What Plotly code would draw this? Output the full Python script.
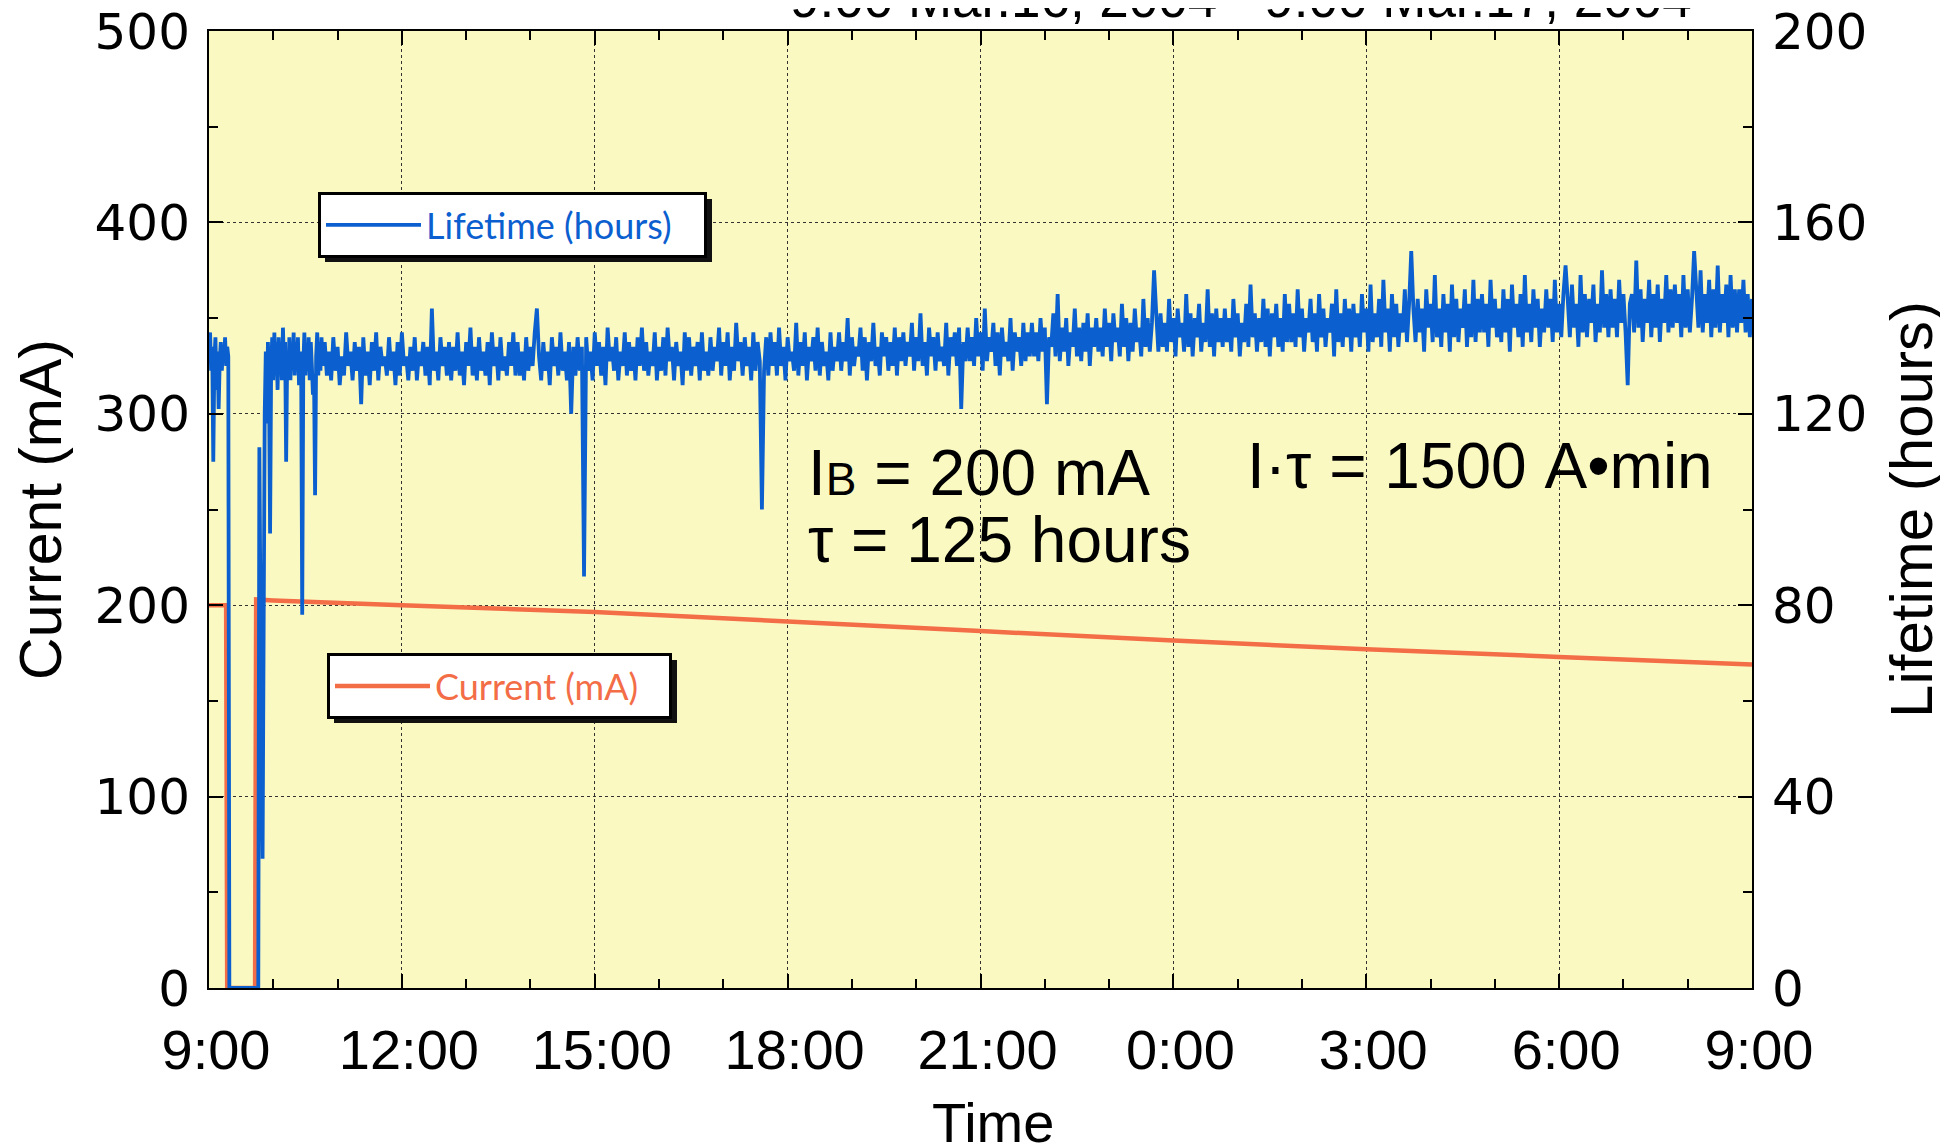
import pandas as pd
import plotly.graph_objects as go

# ---------------- data ----------------
START = pd.Timestamp("2004-03-16 09:00")

# Beam current (mA) vs minutes after 9:00 Mar.16
current_min = [0, 16, 17, 43, 44, 60, 180, 360, 540, 720, 900, 1080, 1260, 1440]
current_mA = [200, 200, 0, 0, 203, 202.5, 200, 196.5, 191.5, 186.5, 181.5, 177, 173, 169]

# Lifetime (hours): early irregular part (minutes after 9:00)
life_early_min = [0, 1, 2, 3, 4, 5, 6, 7, 8, 9, 10, 11, 12, 13, 14, 15, 16, 17, 18, 19,
                  46, 47, 48, 49, 50, 51, 52, 53, 54, 55, 56, 57, 58, 59, 60, 61, 62, 63,
                  64, 65, 66, 67, 68, 69, 70, 71, 72, 73, 74, 75, 76, 77, 78, 79, 80, 81,
                  82, 83, 84, 85, 86, 87, 88, 89, 90, 91, 92, 93, 94, 95, 96, 97, 98, 99,
                  100, 101, 102, 103, 104, 105, 106]
life_early_h = [133, 137, 129, 134, 110, 131, 136, 125, 133, 121, 131, 135, 129, 134, 131,
                136, 130, 134, 132, 0,
                0, 113, 80, 50, 27, 75, 120, 133, 118, 135, 126, 95, 130, 136, 127, 137,
                128, 135, 125, 136, 129, 134, 127, 138, 130, 135, 110, 133, 128, 136, 127,
                134, 130, 137, 128, 135, 129, 136, 126, 133, 131, 78, 130, 137, 128, 134,
                129, 136, 127, 135, 130, 124, 128, 103, 132, 137, 128, 135, 129, 136, 130]

# Lifetime (hours): regular samples every 2 minutes from 108 min onwards
life_start_min = 108
life_step_min = 2
life_h = [
    135, 128, 133, 127, 136, 129, 134, 126, 132, 128, 137, 130, 133, 127, 135, 129, 134, 122, 136, 128, 133, 126, 135, 129, 137, 127, 134, 130, 132, 128,
    136, 129, 133, 126, 135, 128, 137, 130, 132, 127, 134, 129, 136, 127, 133, 130, 135, 128, 134, 126, 142, 129, 133, 127, 136, 130, 134, 128, 135, 127,
    134, 129, 137, 128, 133, 126, 135, 130, 138, 128, 134, 127, 136, 129, 133, 128, 135, 126, 137, 130, 134, 127, 136, 129, 132, 128, 135, 130, 137, 128,
    135, 128, 133, 127, 136, 129, 134, 130, 137, 142, 132, 127, 135, 129, 133, 126, 136, 130, 134, 128, 137, 129, 133, 127, 135, 120, 134, 128, 136, 129,
    134, 86, 136, 129, 133, 127, 137, 130, 135, 128, 134, 126, 138, 131, 134, 129, 136, 127, 133, 130, 137, 128, 135, 129, 134, 127, 136, 130, 138, 129,
    135, 128, 133, 130, 137, 127, 134, 129, 136, 128, 138, 131, 134, 127, 135, 130, 133, 126, 137, 129, 136, 128, 134, 130, 135, 127, 137, 129, 133, 128,
    136, 129, 134, 131, 138, 128, 135, 130, 137, 127, 134, 129, 139, 131, 135, 128, 136, 130, 134, 127, 137, 129, 135, 131, 100, 129, 136, 128, 137, 130,
    135, 128, 138, 130, 134, 127, 136, 131, 133, 129, 139, 128, 135, 130, 137, 127, 134, 131, 136, 129, 138, 128, 135, 130, 133, 127, 137, 129, 134, 131,
    137, 129, 135, 131, 140, 128, 136, 130, 134, 132, 138, 129, 136, 127, 135, 131, 139, 130, 134, 128, 137, 132, 136, 129, 135, 130, 138, 128, 136, 131,
    137, 130, 135, 132, 139, 129, 136, 131, 141, 130, 135, 128, 138, 132, 136, 129, 137, 131, 134, 130, 139, 128, 136, 132, 137, 130, 138, 121, 135, 131,
    138, 131, 136, 130, 140, 132, 137, 129, 142, 131, 136, 133, 139, 130, 137, 128, 138, 132, 135, 131, 140, 129, 137, 133, 136, 130, 139, 131, 137, 132,
    139, 132, 137, 131, 140, 133, 138, 122, 136, 134, 141, 132, 145, 131, 138, 133, 140, 130, 137, 134, 142, 132, 138, 131, 139, 133, 141, 130, 138, 134,
    140, 133, 138, 132, 142, 134, 139, 131, 141, 135, 138, 132, 143, 134, 140, 131, 139, 133, 142, 135, 138, 132, 144, 134, 140, 133, 139, 150, 141, 133,
    141, 134, 139, 133, 144, 135, 140, 132, 142, 136, 139, 133, 145, 134, 141, 132, 140, 136, 143, 133, 139, 135, 146, 134, 141, 132, 142, 135, 140, 134,
    142, 135, 140, 133, 144, 136, 141, 132, 139, 135, 143, 134, 147, 136, 141, 133, 140, 135, 144, 134, 142, 132, 141, 136, 143, 134, 140, 133, 145, 135,
    143, 135, 141, 134, 146, 136, 142, 133, 140, 137, 144, 135, 141, 133, 145, 136, 142, 134, 140, 137, 143, 132, 146, 135, 141, 134, 144, 136, 142, 133,
    143, 136, 141, 134, 145, 137, 142, 133, 147, 135, 141, 136, 144, 134, 148, 137, 142, 133, 145, 136, 143, 134, 141, 137, 146, 135, 143, 154, 142, 135,
    144, 137, 142, 133, 146, 138, 143, 135, 149, 136, 142, 134, 145, 137, 143, 133, 147, 136, 144, 135, 142, 138, 146, 134, 143, 136, 148, 135, 144, 137,
    145, 137, 143, 134, 148, 138, 144, 136, 142, 135, 146, 137, 144, 133, 147, 138, 143, 136, 145, 134, 149, 137, 143, 135, 146, 138, 144, 134, 142, 137,
    146, 138, 144, 135, 148, 137, 143, 136, 145, 151, 144, 136, 147, 138, 143, 134, 149, 137, 145, 136, 144, 139, 147, 135, 143, 137, 150, 138, 145, 136,
    146, 138, 144, 136, 148, 139, 145, 137, 126, 143, 145, 137, 152, 138, 146, 135, 144, 139, 148, 136, 145, 138, 147, 135, 144, 139, 149, 137, 146, 138,
    147, 139, 145, 136, 149, 138, 146, 137, 144, 154, 146, 138, 150, 137, 145, 139, 148, 136, 146, 138, 151, 137, 145, 139, 147, 136, 149, 138, 146, 137,
    146, 139, 148, 137, 145, 136, 144,
]

x_tick_vals = ["2004-03-16 09:00", "2004-03-16 12:00", "2004-03-16 15:00",
               "2004-03-16 18:00", "2004-03-16 21:00", "2004-03-17 00:00",
               "2004-03-17 03:00", "2004-03-17 06:00", "2004-03-17 09:00"]
x_tick_text = ["9:00", "12:00", "15:00", "18:00", "21:00", "0:00", "3:00", "6:00", "9:00"]

title_text = "9:00 Mar.16, 2004 - 9:00 Mar.17, 2004"

# ---------------- build ----------------
life_min = life_early_min + [life_start_min + life_step_min * i for i in range(len(life_h))]
life_vals = life_early_h + life_h
life_t = START + pd.to_timedelta(life_min, unit="min")
cur_t = START + pd.to_timedelta(current_min, unit="min")

# page has an 8px body margin; compensate so the plot sits where the reference has it
OFF = 8
W, H = 1948 - OFF, 1148 - OFF
L, R, T, B = 209, 1752, 31, 988   # plot area in reference pixel coords

def px(xp):
    return (xp - L) / (R - L)

def py(yp):
    return (B - yp) / (B - T)

BLUE = "#0b5fcf"
ORANGE = "#f36d47"
BG = "#fbf9c2"

fig = go.Figure()
fig.add_trace(go.Scatter(x=cur_t, y=current_mA, mode="lines", name="Current (mA)",
                         line=dict(color=ORANGE, width=4.5, simplify=False),
                         legend="legend2", yaxis="y"))
fig.add_trace(go.Scatter(x=life_t, y=life_vals, mode="lines", name="Lifetime (hours)",
                         line=dict(color=BLUE, width=3.8, simplify=False),
                         legend="legend", yaxis="y2"))

tickfont_y = dict(family="DejaVu Sans", size=50, color="black")
minor_common = dict(ticks="inside", ticklen=9, tickcolor="black", tickwidth=1.5,
                    showgrid=False)

fig.update_layout(
    template="none",
    width=W, height=H, autosize=False,
    margin=dict(l=L - OFF, r=W - (R - OFF), t=T - OFF, b=H - (B - OFF), pad=0),
    paper_bgcolor="white", plot_bgcolor=BG,
    xaxis=dict(
        type="date", range=["2004-03-16 09:00", "2004-03-17 09:00"],
        tickmode="array", tickvals=x_tick_vals, ticktext=x_tick_text,
        ticks="inside", ticklen=14, tickwidth=1.5, tickcolor="black",
        showline=True, linecolor="black", linewidth=2, mirror="ticks",
        showgrid=True, gridcolor="#333333", griddash="dot", gridwidth=1,
        tickfont=dict(family="Liberation Sans", size=56, color="black"),
        ticklabelstandoff=12, ticklabelshift=7, automargin=False,
        ticklabeloverflow="allow",
        minor=dict(dtick=3600000, tick0="2004-03-16 09:00", **minor_common),
        zeroline=False,
    ),
    yaxis=dict(
        range=[0, 500], dtick=100, tick0=0,
        ticks="inside", ticklen=14, tickwidth=1.5, tickcolor="black",
        showline=True, linecolor="black", linewidth=2,
        showgrid=True, gridcolor="#333333", griddash="dot", gridwidth=1,
        tickfont=tickfont_y, ticklabelstandoff=7, zeroline=False, automargin=False,
        ticklabeloverflow="allow",
        minor=dict(dtick=50, **minor_common),
        title=dict(text="Current (mA)", font=dict(family="Liberation Sans", size=59,
                                                  color="black"), standoff=19),
    ),
    yaxis2=dict(
        range=[0, 200], dtick=40, tick0=0, overlaying="y", side="right",
        ticks="inside", ticklen=14, tickwidth=1.5, tickcolor="black",
        showline=True, linecolor="black", linewidth=2,
        showgrid=False, zeroline=False, automargin=False,
        tickfont=tickfont_y, ticklabelstandoff=8, ticklabeloverflow="allow",
        minor=dict(dtick=20, **minor_common),
        title=dict(text="Lifetime (hours)", font=dict(family="Liberation Sans", size=60,
                                                      color="black"), standoff=24),
    ),
    legend=dict(x=px(318), y=py(192), xanchor="left", yanchor="top",
                orientation="h", entrywidth=273,
                bgcolor="white", bordercolor="black", borderwidth=3,
                font=dict(family="Lato", size=36, color=BLUE), itemwidth=95),
    legend2=dict(x=px(327), y=py(653), xanchor="left", yanchor="top",
                 orientation="h", entrywidth=229,
                 bgcolor="white", bordercolor="black", borderwidth=3,
                 font=dict(family="Lato", size=36, color=ORANGE), itemwidth=95),
    showlegend=True,
)

# legend drop shadows (reference pixel boxes; rendered legend height ~63px)
LEG_H = 63
SH = 7
for (x0, y0, x1) in [(318, 192, 705), (327, 653, 670)]:
    fig.add_shape(type="rect", xref="paper", yref="paper",
                  x0=px(x0 + SH), x1=px(x1 + SH), y0=py(y0 + LEG_H + SH), y1=py(y0 + SH),
                  fillcolor="#111111", line=dict(width=0), layer="above")

ann_font = dict(family="Liberation Sans", size=64, color="black")
fig.add_annotation(x="2004-03-16 18:17", y=269, xref="x", yref="y", xanchor="left",
                   yanchor="middle", showarrow=False, font=ann_font,
                   text="I<span style='font-size:46px'>B</span> = 200 mA")
fig.add_annotation(x="2004-03-16 18:17", y=234, xref="x", yref="y", xanchor="left",
                   yanchor="middle", showarrow=False, font=ann_font,
                   text="τ = 125 hours")
fig.add_annotation(x="2004-03-17 01:07", y=272.5, xref="x", yref="y", xanchor="left",
                   yanchor="middle", showarrow=False, font=ann_font,
                   text="I·τ = 1500 A•min")
# x-axis title
fig.add_annotation(x=px(993), y=py(1122), xref="paper", yref="paper", xanchor="center",
                   yanchor="middle", showarrow=False,
                   font=dict(family="Liberation Sans", size=56, color="black"),
                   text="Time")
# chart title (cut off at the top edge, as in the original)
fig.add_annotation(x=px(1241), y=py(-1), xref="paper", yref="paper", xanchor="center",
                   yanchor="middle", showarrow=False,
                   font=dict(family="Liberation Sans", size=53, color="black"),
                   text=title_text)

fig.write_html("out.html")
